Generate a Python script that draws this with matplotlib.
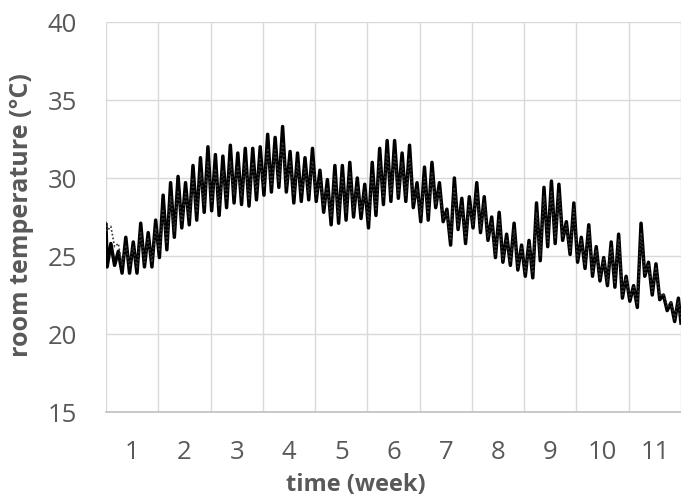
import numpy as np
import matplotlib
matplotlib.use("Agg")
import matplotlib.pyplot as plt
from matplotlib.ticker import FixedLocator, MultipleLocator

# ============================================================
# DỮ LIỆU: nhiệt độ phòng theo ngày (thấp nhất / cao nhất), 77 ngày
# ============================================================
# đường liền
solid_start = 27.0
solid_low = [24.3, 24.4, 23.9, 23.9, 23.9, 24.3, 24.3,
             24.9, 25.4, 26.2, 26.8, 27.0, 27.3, 27.8,
             27.9, 27.6, 28.1, 28.4, 28.3, 28.2, 28.6,
             28.9, 29.1, 29.4, 29.1, 28.4, 28.5, 28.6,
             28.5, 27.8, 27.0, 27.1, 27.3, 27.5, 27.4,
             26.8, 27.6, 28.3, 28.5, 28.7, 28.5, 28.1,
             27.2, 27.3, 28.1, 27.2, 25.7, 26.7, 25.8,
             26.8, 26.5, 26.0, 24.9, 24.6, 24.4, 24.1,
             23.7, 23.6, 24.7, 25.6, 25.8, 26.0, 25.1,
             24.6, 24.2, 23.7, 23.4, 23.1, 23.0, 22.3,
             22.1, 21.7, 23.7, 22.5, 22.2, 21.5, 20.8]
solid_high = [25.8, 25.3, 26.2, 25.9, 27.1, 26.5, 27.3,
              28.9, 29.7, 30.1, 29.7, 30.8, 31.3, 32.0,
              31.5, 31.4, 32.1, 31.6, 31.9, 31.9, 32.0,
              32.8, 32.6, 33.3, 31.7, 31.6, 31.3, 31.9,
              30.5, 29.9, 30.8, 30.8, 31.0, 30.0, 29.6,
              31.0, 31.9, 32.4, 32.4, 31.6, 32.1, 29.7,
              30.7, 31.0, 29.7, 28.0, 30.0, 28.7, 28.8,
              29.7, 28.8, 27.5, 27.8, 26.4, 27.1, 25.7,
              26.0, 28.4, 29.4, 29.8, 29.6, 27.2, 28.4,
              26.2, 27.0, 25.6, 24.9, 25.9, 26.4, 23.7,
              23.1, 27.1, 24.6, 24.5, 22.5, 22.0, 22.3]
solid_end = 20.7

# đường chấm
dotted_start = 27.2
dotted_low = [26.6, 25.6, 24.4, 24.3, 24.3, 24.6, 24.6,
              25.3, 25.8, 26.6, 27.2, 27.5, 27.8, 28.3,
              28.4, 28.2, 28.6, 28.9, 28.8, 28.7, 29.1,
              29.4, 29.6, 29.8, 29.5, 28.9, 29.0, 29.0,
              28.9, 28.2, 27.5, 27.6, 27.8, 27.9, 27.8,
              27.3, 28.0, 28.7, 28.9, 29.0, 28.9, 28.4,
              27.6, 27.7, 28.3, 27.4, 26.0, 26.9, 26.1,
              27.0, 26.7, 26.2, 25.1, 24.8, 24.6, 24.3,
              23.9, 23.9, 25.0, 25.9, 26.1, 26.2, 25.3,
              24.8, 24.4, 23.9, 23.6, 23.3, 23.2, 22.5,
              22.3, 21.9, 23.9, 22.7, 22.4, 21.7, 21.0]
dotted_high = [26.9, 25.8, 25.7, 25.6, 26.5, 26.1, 26.8,
               28.0, 28.8, 29.2, 29.0, 29.9, 30.4, 31.0,
               30.6, 30.5, 31.1, 30.8, 31.0, 31.0, 31.2,
               31.9, 31.8, 32.3, 31.0, 30.9, 30.6, 31.1,
               29.9, 29.4, 30.1, 30.1, 30.3, 29.5, 29.1,
               30.2, 31.1, 31.6, 31.6, 31.0, 31.3, 29.3,
               30.0, 30.3, 29.3, 27.8, 29.4, 28.3, 28.3,
               29.1, 28.4, 27.2, 27.4, 26.1, 26.7, 25.5,
               25.7, 27.8, 28.8, 29.1, 29.0, 27.0, 28.0,
               26.0, 26.7, 25.4, 24.8, 25.6, 26.1, 23.6,
               23.0, 26.5, 24.5, 24.3, 22.6, 22.0, 22.1]
dotted_end = 20.9

week_labels = ["1", "2", "3", "4", "5", "6", "7", "8", "9", "10", "11"]
y_ticks = [15, 20, 25, 30, 35, 40]

GRAY_TEXT = "#595959"
GRID = "#d9d9d9"


def chuoi_thoi_gian(start, lows, highs, end):
    """Ghép giá trị thấp/cao theo ngày thành chuỗi (thời gian theo tuần)."""
    n = len(lows)
    days = np.arange(n)
    t = np.column_stack([days + 0.15, days + 0.65]).ravel()
    v = np.column_stack([lows, highs]).ravel()
    t = np.concatenate([[0.0], t, [n]]) / 7.0
    v = np.concatenate([[start], v, [end]])
    return t, v


plt.rcParams["font.family"] = ["Open Sans", "DejaVu Sans"]

fig = plt.figure(figsize=(6.81, 5.00), dpi=100)
ax = fig.add_axes([106 / 681, 1 - 412 / 500, 575 / 681, 390 / 500])

t1, v1 = chuoi_thoi_gian(solid_start, solid_low, solid_high, solid_end)
t2, v2 = chuoi_thoi_gian(dotted_start, dotted_low, dotted_high, dotted_end)
ax.plot(t1, v1, color="black", lw=2.5, zorder=3)
ax.plot(t2, v2, color="#333333", lw=1.2, ls=(0, (1, 1.3)), zorder=4)

ax.set_xlim(0, 11)
ax.set_ylim(15, 40)

ax.xaxis.set_major_locator(FixedLocator(np.arange(len(week_labels)) + 0.5))
ax.set_xticklabels(week_labels)
ax.xaxis.set_minor_locator(MultipleLocator(1))
ax.set_yticks(y_ticks)

ax.tick_params(axis="both", which="both", length=0, labelsize=18.5,
               labelcolor=GRAY_TEXT)
ax.tick_params(axis="y", pad=21)
ax.tick_params(axis="x", pad=20)

ax.grid(True, axis="y", which="major", color=GRID, lw=1.0)
ax.grid(True, axis="x", which="minor", color=GRID, lw=1.0)
ax.grid(False, axis="x", which="major")
ax.set_axisbelow(True)

for side in ["top", "right", "left"]:
    ax.spines[side].set_visible(False)
ax.spines["bottom"].set_color("#bfbfbf")
ax.spines["bottom"].set_linewidth(1.2)

fig.text(356 / 681, 1 - 485 / 500, "time (week)", ha="center", va="center",
         fontsize=17, fontweight="bold", color=GRAY_TEXT)
fig.text(22 / 681, 1 - 215 / 500, "room temperature (°C)", ha="center",
         va="center", rotation=90, fontsize=18, fontweight="bold",
         color=GRAY_TEXT)

fig.savefig("out.png", dpi=100)
